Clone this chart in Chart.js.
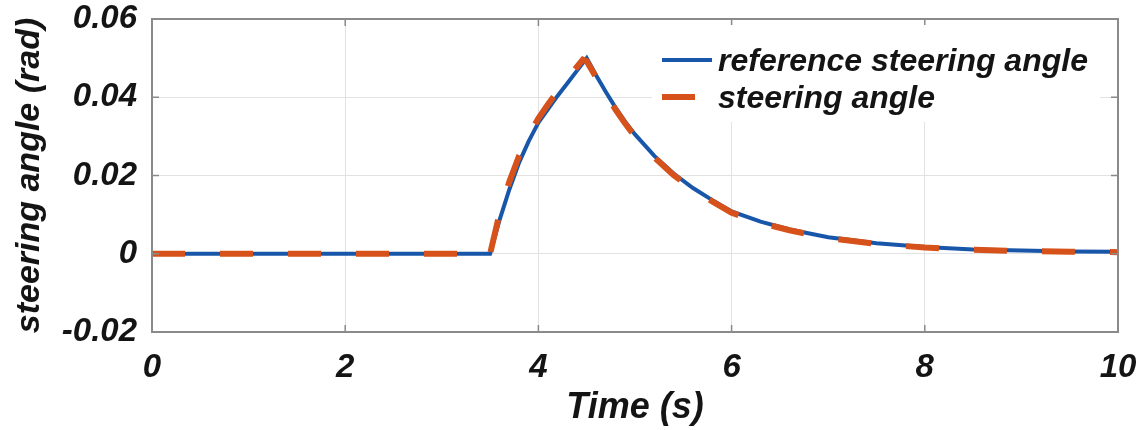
<!DOCTYPE html>
<html>
<head>
<meta charset="utf-8">
<script src="https://cdn.jsdelivr.net/npm/chart.js@4.4.1/dist/chart.umd.min.js"></script>
<style>
  html, body { margin: 0; padding: 0; background: #fff; }
  #wrap { width: 1148px; height: 430px; }
</style>
</head>
<body>
<div id="wrap"><canvas id="chart" width="1148" height="430"></canvas></div>
<script>
// ===== Data =====
const refTime  = [0, 3.5, 3.6, 3.7, 3.8, 3.9, 4.0, 4.1, 4.2, 4.3, 4.4, 4.5, 4.6, 4.7, 4.8, 4.9, 5.0, 5.2, 5.4, 5.6, 5.8, 6.0, 6.3, 6.6, 7.0, 7.5, 8.0, 8.5, 9.0, 9.5, 10];
const refAngle = [0, 0, 0.0088, 0.0165, 0.0233, 0.0288, 0.0335, 0.0370, 0.0404, 0.0436, 0.0468, 0.0500, 0.0455, 0.0413, 0.0373, 0.0337, 0.0305, 0.0250, 0.0205, 0.0168, 0.0137, 0.0108, 0.0082, 0.0062, 0.0042, 0.0027, 0.0017, 0.0011, 0.0008, 0.0006, 0.0005];

const angTime  = [0, 3.5, 3.6, 3.7, 3.8, 3.9, 4.0, 4.1, 4.2, 4.3, 4.4, 4.46, 4.5, 4.6, 4.7, 4.8, 4.9, 5.0, 5.2, 5.4, 5.6, 5.8, 6.0, 6.3, 6.6, 7.0, 7.5, 8.0, 8.5, 9.0, 9.5, 10];
const angAngle = [0, 0, 0.0105, 0.0185, 0.0250, 0.0302, 0.0346, 0.0382, 0.0416, 0.0448, 0.0478, 0.0496, 0.0492, 0.0450, 0.0408, 0.0368, 0.0332, 0.0300, 0.0246, 0.0201, 0.0164, 0.0134, 0.0105, 0.0079, 0.0060, 0.0040, 0.0025, 0.0016, 0.0010, 0.0007, 0.0005, 0.0004];

const xTickLabels = ['0', '2', '4', '6', '8', '10'];
const yTickLabels = ['-0.02', '0', '0.02', '0.04', '0.06'];

const BLUE = '#1756a9';
const ORANGE = '#d6521a';
const TEXT = '#141414';
const FONT = 'Liberation Sans, Arial, sans-serif';

const toPoints = (xs, ys) => xs.map((x, i) => ({ x, y: ys[i] }));

// box around the plot + small inward ticks, like the matlab axes
const boxPlugin = {
  id: 'box',
  afterDatasetsDraw(chart) {
    const { ctx, chartArea: a, scales } = chart;
    ctx.save();
    ctx.strokeStyle = '#8a8a8a';
    ctx.lineWidth = 1.5;
    ctx.beginPath();
    scales.x.ticks.forEach(t => {
      const px = scales.x.getPixelForValue(t.value);
      ctx.moveTo(px, a.bottom); ctx.lineTo(px, a.bottom - 7);
      ctx.moveTo(px, a.top); ctx.lineTo(px, a.top + 7);
    });
    scales.y.ticks.forEach(t => {
      const py = scales.y.getPixelForValue(t.value);
      ctx.moveTo(a.left, py); ctx.lineTo(a.left + 7, py);
      ctx.moveTo(a.right, py); ctx.lineTo(a.right - 7, py);
    });
    ctx.stroke();
    ctx.lineWidth = 2;
    ctx.strokeRect(a.left, a.top, a.right - a.left, a.bottom - a.top);
    ctx.restore();
  }
};

// legend inside the top right corner, white backing, no frame
const legendPlugin = {
  id: 'insideLegend',
  afterDraw(chart) {
    const { ctx } = chart;
    ctx.save();
    ctx.fillStyle = '#fff';
    ctx.fillRect(652, 25, 448, 97);
    ctx.font = 'italic bold 32px ' + FONT;
    ctx.textBaseline = 'middle';
    chart.data.datasets.forEach((ds, i) => {
      const y = 60 + i * 37;
      ctx.strokeStyle = ds.borderColor;
      ctx.lineWidth = ds.borderWidth;
      ctx.setLineDash(ds.borderDash || []);
      ctx.beginPath();
      ctx.moveTo(662, y);
      ctx.lineTo(712, y);
      ctx.stroke();
      ctx.setLineDash([]);
      ctx.fillStyle = TEXT;
      ctx.fillText(ds.label, 718, y + 2);
    });
    ctx.restore();
  }
};

new Chart(document.getElementById('chart'), {
  type: 'line',
  data: {
    datasets: [
      {
        label: 'reference steering angle',
        data: toPoints(refTime, refAngle),
        borderColor: BLUE,
        borderWidth: 4,
        pointRadius: 0,
        tension: 0,
        order: 1,
      },
      {
        label: 'steering angle',
        data: toPoints(angTime, angAngle),
        borderColor: ORANGE,
        borderWidth: 6,
        borderDash: [33, 35],
        pointRadius: 0,
        tension: 0,
        order: 0,
      },
    ],
  },
  options: {
    responsive: false,
    animation: false,
    devicePixelRatio: 1,
    layout: { padding: { top: 19, right: 30, left: 0, bottom: 0 } },
    plugins: {
      legend: { display: false },
      tooltip: { enabled: false },
    },
    scales: {
      x: {
        type: 'linear',
        min: 0,
        max: 10,
        afterFit: s => { s.height = 98; s.paddingLeft = 0; s.paddingRight = 0; },
        ticks: {
          stepSize: 2,
          padding: 19,
          color: TEXT,
          font: { family: FONT, size: 33, style: 'italic', weight: 'bold', lineHeight: 1 },
          callback: (v, i) => xTickLabels[i],
        },
        grid: { color: '#e2e2e2', lineWidth: 1, drawTicks: false },
        border: { display: false },
        title: {
          display: true,
          text: 'Time (s)',
          color: TEXT,
          font: { family: FONT, size: 36, style: 'italic', weight: 'bold', lineHeight: 1 },
          padding: { top: 0, bottom: 4 },
        },
      },
      y: {
        type: 'linear',
        min: -0.02,
        max: 0.06,
        afterFit: s => { s.width = 152; s.paddingTop = 0; s.paddingBottom = 0; },
        ticks: {
          stepSize: 0.02,
          padding: 15,
          color: TEXT,
          font: { family: FONT, size: 33, style: 'italic', weight: 'bold', lineHeight: 1 },
          callback: (v, i) => yTickLabels[i],
        },
        grid: { color: '#e2e2e2', lineWidth: 1, drawTicks: false },
        border: { display: false },
        title: {
          display: true,
          text: 'steering angle (rad)',
          color: TEXT,
          font: { family: FONT, size: 34, style: 'italic', weight: 'bold', lineHeight: 1 },
          padding: { top: 13, bottom: 0 },
        },
      },
    },
  },
  plugins: [boxPlugin, legendPlugin],
});
</script>
</body>
</html>
